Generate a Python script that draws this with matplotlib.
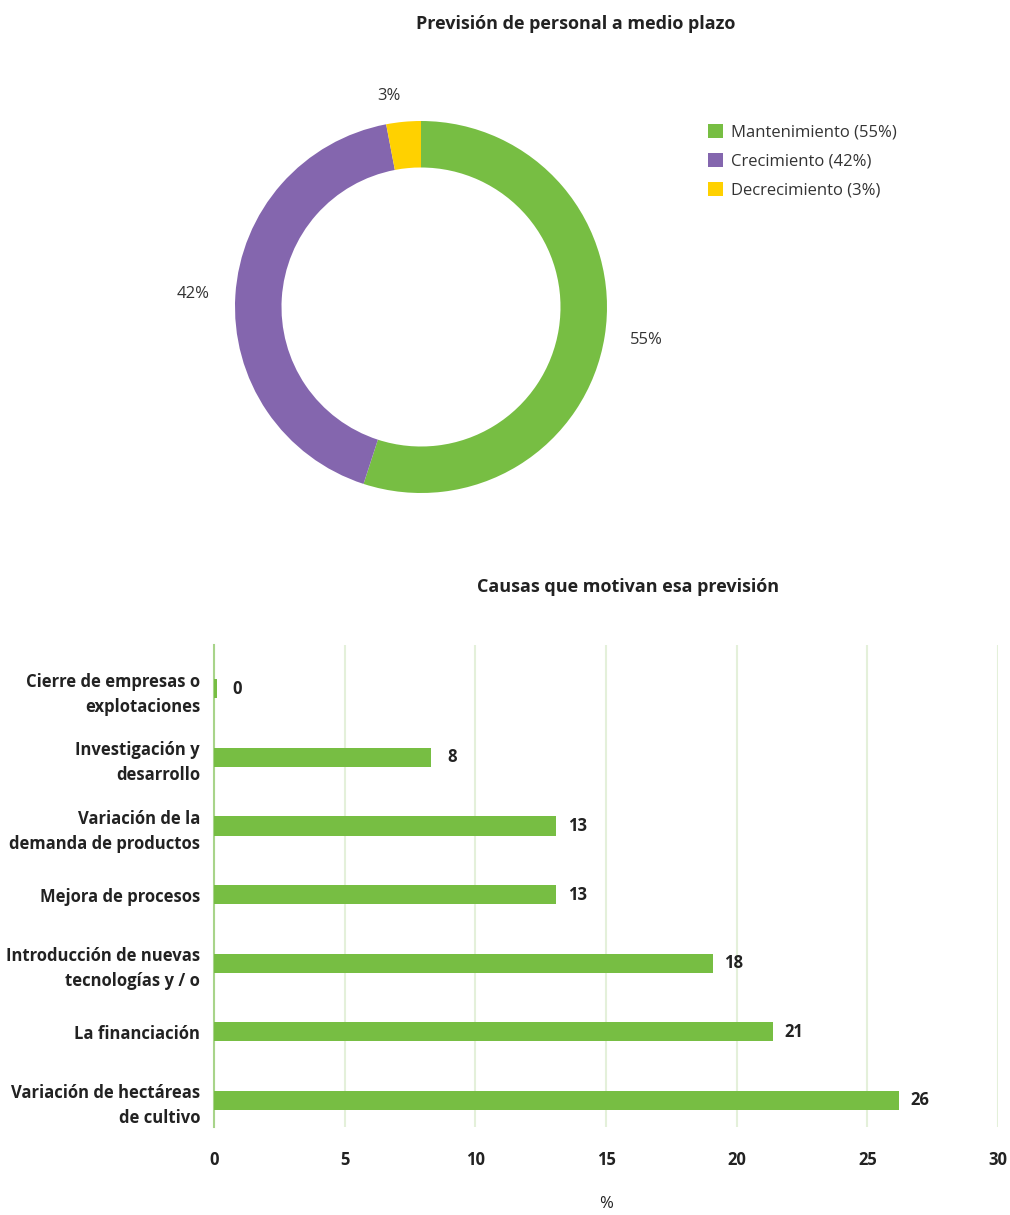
import matplotlib.pyplot as plt
from matplotlib.patches import Patch

plt.rcParams['font.family'] = ['Open Sans', 'DejaVu Sans']

# Datos del anillo
pie_labels = ["Mantenimiento", "Crecimiento", "Decrecimiento"]
pie_values = [55, 42, 3]
pie_colors = ["#77BE43", "#8466AE", "#FFD100"]

# Datos de barras (de abajo hacia arriba)
causas = ["Variación de hectáreas\nde cultivo", "La financiación",
          "Introducción de nuevas\ntecnologías y / o", "Mejora de procesos",
          "Variación de la\ndemanda de productos", "Investigación y\ndesarrollo",
          "Cierre de empresas o\nexplotaciones"]
valores = [26.2, 21.4, 19.1, 13.1, 13.1, 8.3, 0.1]
etiquetas = ["26", "21", "18", "13", "13", "8", "0"]
xticks = [0, 5, 10, 15, 20, 25, 30]

W, H = 1010, 1215
fig = plt.figure(figsize=(W / 100, H / 100), dpi=100)

# --- Anillo ---
ax1 = fig.add_axes([221 / W, (H - 507) / H, 400 / W, 400 / H])
wedges, texts = ax1.pie(pie_values, colors=pie_colors, radius=0.93, startangle=90,
                        counterclock=False, labels=[f"{v}%" for v in pie_values],
                        labeldistance=1.14,
                        wedgeprops=dict(width=0.93 * 0.25, edgecolor="none"),
                        textprops=dict(fontsize=12, color="#333333"))
ax1.set_xlim(-1, 1)
ax1.set_ylim(-1, 1)
ax1.set_aspect("equal")

fig.text(576 / W, 1 - 24 / H, "Previsión de personal a medio plazo",
         ha="center", va="center", fontsize=13, fontweight="bold", color="#222222")

handles = [Patch(facecolor=c, edgecolor="none", label=f"{l} ({v}%)")
           for l, v, c in zip(pie_labels, pie_values, pie_colors)]
fig.legend(handles=handles, loc="upper left", bbox_to_anchor=(693 / W, 1 - 109 / H),
           frameon=False, fontsize=12, handlelength=0.9, handleheight=0.9,
           handletextpad=0.5, labelspacing=0.75, labelcolor="#333333")

# --- Barras ---
ax2 = fig.add_axes([214 / W, (H - 1127) / H, (998 - 214) / W, (1127 - 645) / H])
y = list(range(len(causas)))
ax2.barh(y, valores, height=0.28, color="#77BE43", zorder=3)
for yi, v, t in zip(y, valores, etiquetas):
    ax2.annotate(t, (v, yi), xytext=(15, 0), textcoords="offset points",
                 ha="center", va="center", fontsize=12, fontweight="bold", color="#222222")

ax2.set_xlim(0, 30)
ax2.set_ylim(-0.39, 6.64)
ax2.set_xticks(xticks)
ax2.set_yticks(y)
ax2.set_yticklabels(causas, fontsize=12, fontweight="bold", color="#222222",
                    linespacing=1.5)
ax2.tick_params(axis="x", length=0, pad=17, labelsize=12, labelcolor="#222222")
ax2.tick_params(axis="y", length=0, pad=10)
for lbl in ax2.get_xticklabels():
    lbl.set_fontweight("bold")
ax2.grid(axis="x", color="#E4F0DA", linewidth=1.5, zorder=0)
for s in ["top", "right", "bottom"]:
    ax2.spines[s].set_visible(False)
ax2.spines["left"].set_color("#A8D48A")
ax2.spines["left"].set_linewidth(1.5)
ax2.set_xlabel("%", fontsize=12, color="#222222", labelpad=20)

fig.text(628 / W, 1 - 587 / H, "Causas que motivan esa previsión",
         ha="center", va="center", fontsize=13, fontweight="bold", color="#222222")

fig.savefig("out.png", dpi=100)
